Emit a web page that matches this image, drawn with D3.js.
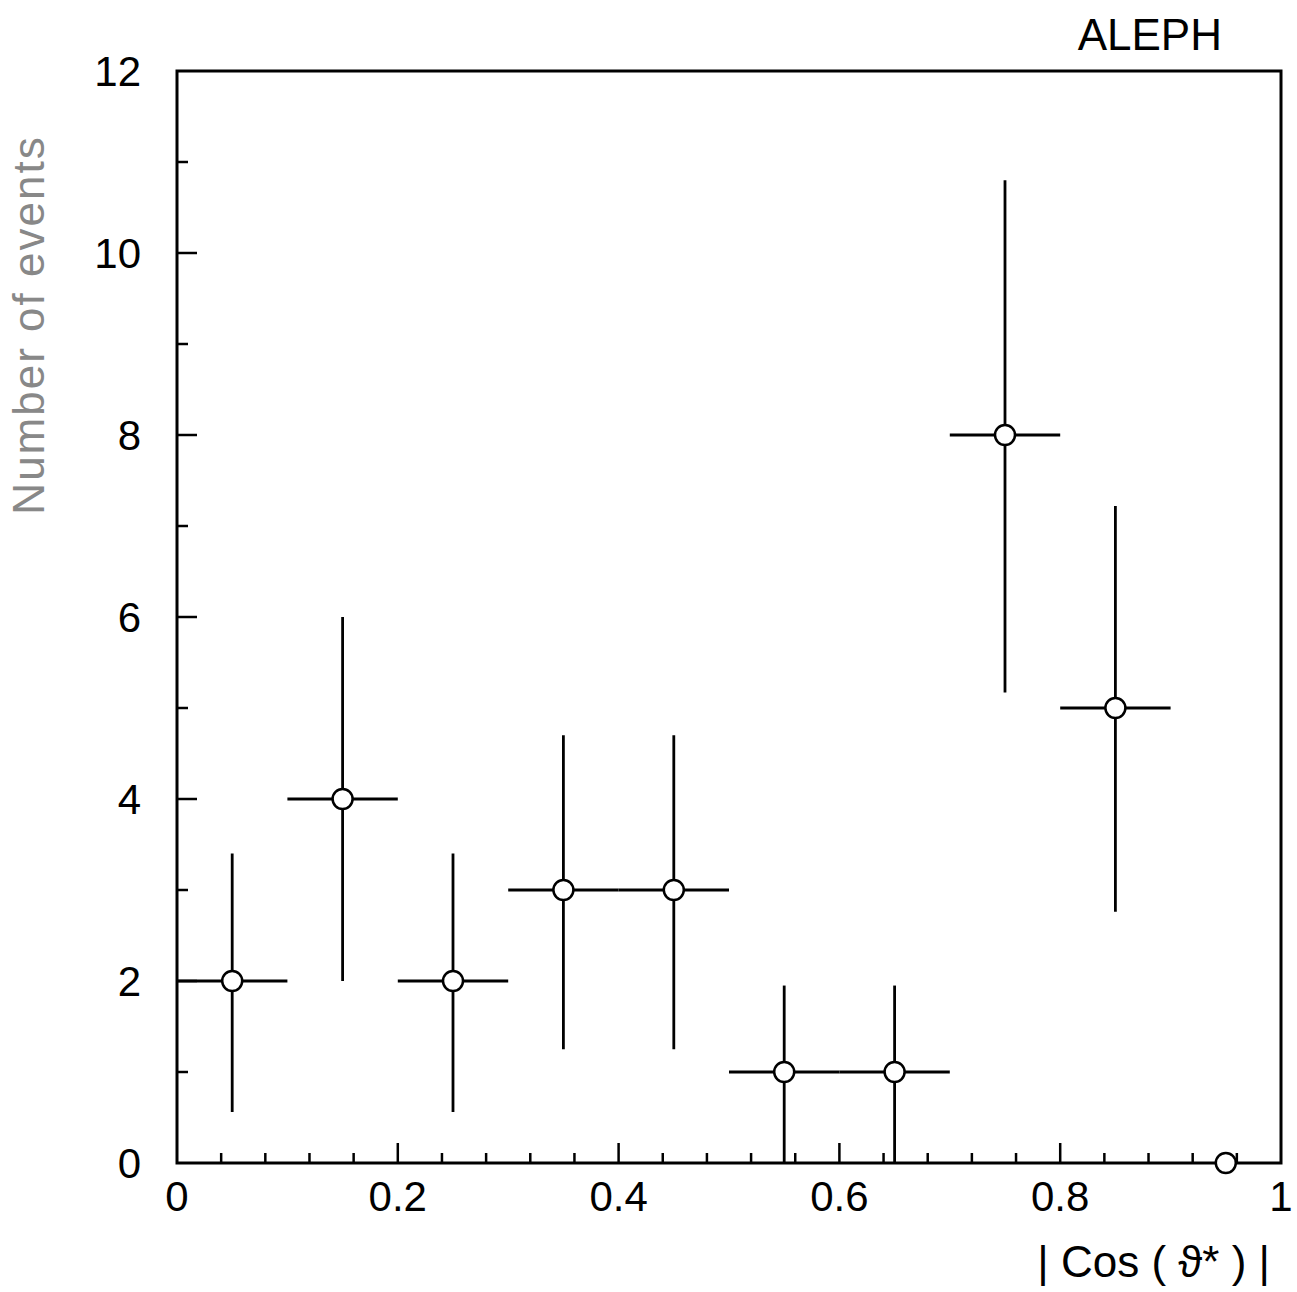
<!DOCTYPE html>
<html>
<head>
<meta charset="utf-8">
<script src="https://cdn.jsdelivr.net/npm/d3@7"></script>
<style>
  body { margin: 0; background: #fff; }
  text { font-family: "Liberation Sans", Arial, sans-serif; }
</style>
</head>
<body>
<svg id="chart" width="1297" height="1292"></svg>
<script>
// bin centres of |cos theta*|
const binCenters = [0.05, 0.15, 0.25, 0.35, 0.45, 0.55, 0.65, 0.75, 0.85, 0.95];
const counts     = [2, 4, 2, 3, 3, 1, 1, 8, 5, 0];
const errLow     = [0.56, 2.0, 0.56, 1.25, 1.25, 0.0, 0.0, 5.17, 2.76, null];
const errHigh    = [3.4, 6.0, 3.4, 4.7, 4.7, 1.95, 1.95, 10.8, 7.22, null];
const binHalf = 0.05;
const xTickLabels = [0, 0.2, 0.4, 0.6, 0.8, 1];
const yTickLabels = [0, 2, 4, 6, 8, 10, 12];

const plotL = 177, plotR = 1281, plotT = 71, plotB = 1163;

let svg = d3.select("#chart");

let x = d3.scaleLinear().domain([0, 1]).range([plotL, plotR]);
let y = d3.scaleLinear().domain([0, 12]).range([plotB, plotT]);

// frame
svg.append("rect")
    .attr("x", plotL).attr("y", plotT)
    .attr("width", plotR - plotL).attr("height", plotB - plotT)
    .attr("fill", "none").attr("stroke", "#000").attr("stroke-width", 3);

// x ticks (inside, pointing up)
let xMinor = d3.range(0.04, 1.0, 0.04);
svg.append("g").selectAll("line")
    .data(xMinor)
    .enter().append("line")
    .attr("x1", d => x(d)).attr("x2", d => x(d))
    .attr("y1", plotB)
    .attr("y2", d => Math.abs(d / 0.2 - Math.round(d / 0.2)) < 1e-6 ? plotB - 20 : plotB - 10)
    .attr("stroke", "#000").attr("stroke-width", 2.5);

// y ticks (inside, pointing right)
let yMinor = d3.range(1, 12, 1);
svg.append("g").selectAll("line")
    .data(yMinor)
    .enter().append("line")
    .attr("y1", d => y(d)).attr("y2", d => y(d))
    .attr("x1", plotL)
    .attr("x2", d => d % 2 == 0 ? plotL + 20 : plotL + 11)
    .attr("stroke", "#000").attr("stroke-width", 2.5);

// tick labels
svg.append("g").selectAll("text")
    .data(xTickLabels)
    .enter().append("text")
    .attr("x", d => x(d))
    .attr("y", plotB + 48)
    .attr("text-anchor", "middle")
    .attr("font-size", 42)
    .text(d => d);

svg.append("g").selectAll("text")
    .data(yTickLabels)
    .enter().append("text")
    .attr("x", plotL - 36)
    .attr("y", d => y(d) + 15)
    .attr("text-anchor", "end")
    .attr("font-size", 42)
    .text(d => d);

// error bars
let pts = binCenters.map((c, i) => ({c: c, n: counts[i], lo: errLow[i], hi: errHigh[i]}));
let withErr = pts.filter(d => d.lo !== null);

svg.append("g").selectAll("line")
    .data(withErr)
    .enter().append("line")
    .attr("x1", d => x(d.c - binHalf)).attr("x2", d => x(d.c + binHalf))
    .attr("y1", d => y(d.n)).attr("y2", d => y(d.n))
    .attr("stroke", "#000").attr("stroke-width", 2.8);

svg.append("g").selectAll("line")
    .data(withErr)
    .enter().append("line")
    .attr("x1", d => x(d.c)).attr("x2", d => x(d.c))
    .attr("y1", d => y(d.lo)).attr("y2", d => y(d.hi))
    .attr("stroke", "#000").attr("stroke-width", 2.8);

// points
svg.append("g").selectAll("circle")
    .data(pts)
    .enter().append("circle")
    .attr("cx", d => x(d.c)).attr("cy", d => y(d.n))
    .attr("r", 10)
    .attr("fill", "#fff").attr("stroke", "#000").attr("stroke-width", 2.5);

// labels
svg.append("text")
    .attr("x", 1222).attr("y", 50)
    .attr("text-anchor", "end")
    .attr("font-size", 44)
    .text("ALEPH");

svg.append("text")
    .attr("transform", "translate(44," + 325 + ") rotate(-90)")
    .attr("text-anchor", "middle")
    .attr("font-size", 44)
    .attr("letter-spacing", 2)
    .attr("fill", "#888")
    .text("Number of events");

svg.append("text")
    .attr("x", 1270).attr("y", 1277)
    .attr("text-anchor", "end")
    .attr("font-size", 44)
    .text("| Cos ( ϑ* ) |");
</script>
</body>
</html>
